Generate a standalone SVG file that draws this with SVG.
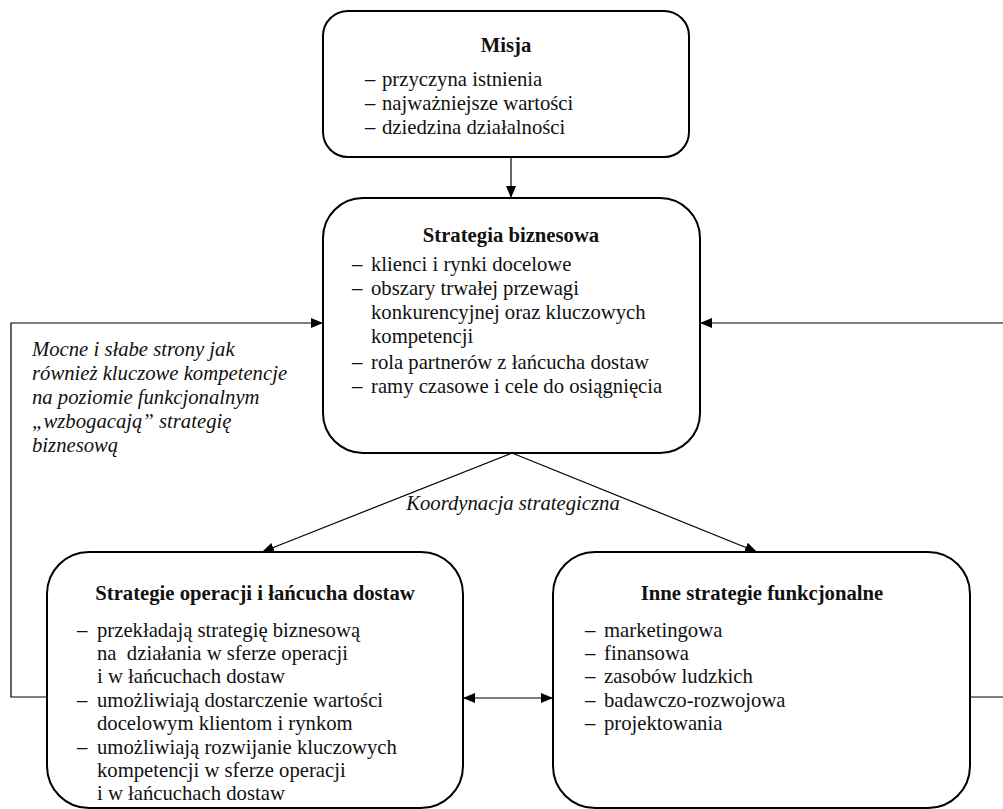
<svg xmlns="http://www.w3.org/2000/svg" width="1003" height="809" viewBox="0 0 1003 809">
<defs>
<marker id="ah" markerUnits="userSpaceOnUse" markerWidth="14" markerHeight="12" refX="12" refY="6" orient="auto">
<path d="M0,1 L12,6 L0,11 Z" fill="#000"/>
</marker>
<marker id="ahs" markerUnits="userSpaceOnUse" markerWidth="14" markerHeight="12" refX="0" refY="6" orient="auto">
<path d="M12,1 L0,6 L12,11 Z" fill="#000"/>
</marker>
<style>
.box{fill:#fff;stroke:#000;stroke-width:2}
.t{font-family:"Liberation Serif","Times New Roman",serif;font-size:20.7px;fill:#111}
.b{font-weight:bold;text-anchor:middle}
.i{font-style:italic}
.c{fill:none;stroke:#000;stroke-width:1.2}
</style>
</defs>
<g id="connectors">
<line class="c" x1="511" y1="157" x2="511" y2="198" marker-end="url(#ah)"/>
<path class="c" d="M47 697 H11 V323 H323" marker-end="url(#ah)"/>
<path class="c" d="M970 697 H1006 V323 H700" marker-end="url(#ah)"/>
<line class="c" x1="463" y1="698" x2="553" y2="698" marker-start="url(#ahs)" marker-end="url(#ah)"/>
<line class="c" x1="512" y1="453" x2="262" y2="552" marker-end="url(#ah)"/>
<line class="c" x1="512" y1="453" x2="757" y2="552" marker-end="url(#ah)"/>
<text class="t i" x="513" y="510" text-anchor="middle">Koordynacja strategiczna</text>
<text class="t i" x="32" y="356">Mocne i słabe strony jak</text>
<text class="t i" x="32" y="380">również kluczowe kompetencje</text>
<text class="t i" x="32" y="404">na poziomie funkcjonalnym</text>
<text class="t i" x="32" y="428">„wzbogacają” strategię</text>
<text class="t i" x="32" y="452">biznesową</text>
</g>
<g id="misja">
<rect class="box" x="323" y="11" width="366" height="146" rx="25" ry="25"/>
<text class="t b" x="506" y="52">Misja</text>
<text class="t" x="365" y="86">–</text><text class="t" x="382" y="86">przyczyna istnienia</text>
<text class="t" x="365" y="110">–</text><text class="t" x="382" y="110">najważniejsze wartości</text>
<text class="t" x="365" y="134">–</text><text class="t" x="382" y="134">dziedzina działalności</text>
</g>
<g id="strategia">
<rect class="box" x="323" y="198" width="377" height="255" rx="40" ry="40"/>
<text class="t b" x="511" y="242">Strategia biznesowa</text>
<text class="t" x="352" y="271">–</text><text class="t" x="371" y="271">klienci i rynki docelowe</text>
<text class="t" x="352" y="295">–</text><text class="t" x="371" y="295">obszary trwałej przewagi</text>
<text class="t" x="371" y="319">konkurencyjnej oraz kluczowych</text>
<text class="t" x="371" y="343">kompetencji</text>
<text class="t" x="352" y="369">–</text><text class="t" x="371" y="369">rola partnerów z łańcucha dostaw</text>
<text class="t" x="352" y="393">–</text><text class="t" x="371" y="393">ramy czasowe i cele do osiągnięcia</text>
</g>
<g id="operacje">
<rect class="box" x="47" y="552" width="416" height="256" rx="42" ry="42"/>
<text class="t b" x="255" y="600">Strategie operacji i łańcucha dostaw</text>
<text class="t" x="77" y="637">–</text><text class="t" x="97" y="637">przekładają strategię biznesową</text>
<text class="t" x="97" y="660">na&#160; działania w sferze operacji</text>
<text class="t" x="97" y="683">i w łańcuchach dostaw</text>
<text class="t" x="77" y="707">–</text><text class="t" x="97" y="707">umożliwiają dostarczenie wartości</text>
<text class="t" x="97" y="730">docelowym klientom i rynkom</text>
<text class="t" x="77" y="754">–</text><text class="t" x="97" y="754">umożliwiają rozwijanie kluczowych</text>
<text class="t" x="97" y="777">kompetencji w sferze operacji</text>
<text class="t" x="97" y="800">i w łańcuchach dostaw</text>
</g>
<g id="inne">
<rect class="box" x="553" y="552" width="417" height="256" rx="42" ry="42"/>
<text class="t b" x="762" y="600">Inne strategie funkcjonalne</text>
<text class="t" x="585" y="637">–</text><text class="t" x="604" y="637">marketingowa</text>
<text class="t" x="585" y="660">–</text><text class="t" x="604" y="660">finansowa</text>
<text class="t" x="585" y="683">–</text><text class="t" x="604" y="683">zasobów ludzkich</text>
<text class="t" x="585" y="707">–</text><text class="t" x="604" y="707">badawczo-rozwojowa</text>
<text class="t" x="585" y="730">–</text><text class="t" x="604" y="730">projektowania</text>
</g>
</svg>
